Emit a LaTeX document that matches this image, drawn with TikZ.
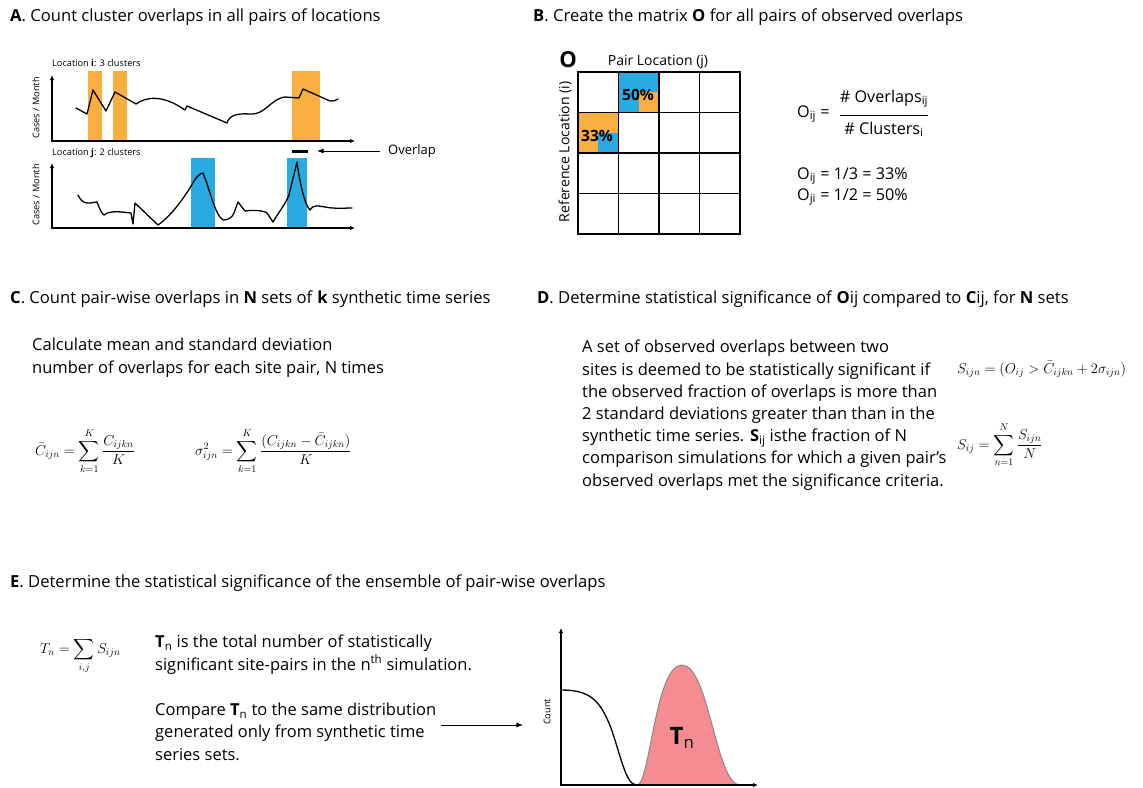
\documentclass[tikz,border=0pt]{standalone}
\usepackage{amsmath,amssymb}
\usepackage{fontspec}
\setmainfont{Open Sans}
\usepackage{tikz}
\usetikzlibrary{arrows.meta,calc,positioning}
\definecolor{clusterOrange}{HTML}{F9AE40}
\definecolor{clusterBlue}{HTML}{29ABE2}
\definecolor{histPink}{HTML}{F48C92}
\definecolor{histEdge}{HTML}{8A8A8A}

\begin{document}
\begin{tikzpicture}[x=1pt,y=-1pt,>=Latex,
    heading/.style={anchor=base west,inner sep=0pt,font=\fontsize{16.6}{20}\selectfont},
    para/.style={anchor=base west,inner sep=0pt,align=left,font=\fontsize{16.5}{22.2}\selectfont},
    smalltxt/.style={inner sep=0pt,font=\fontsize{9.2}{10}\selectfont},
    midtxt/.style={inner sep=0pt,font=\fontsize{14}{16}\selectfont},
    fractxt/.style={inner sep=0pt,font=\fontsize{16.2}{18}\selectfont},
    eqn/.style={anchor=base west,inner sep=0pt,font=\fontsize{14.5}{17}\selectfont},
    axis/.style={<->,line width=1.1pt,>={Latex[length=5pt,width=4.5pt]}},
    series/.style={line width=1.3pt,line join=round,line cap=round}]
  \useasboundingbox (0,0) rectangle (1143,787);

  % A: observed time series
  \node[heading] (headA) at (10,21)
    {\textbf{A}. Count cluster overlaps in all pairs of locations};
  \foreach \xa/\xb in {88/102,113/127,292/320}
    \fill[clusterOrange] (\xa,71) rectangle (\xb,141);
  \foreach \xa/\xb in {191/215,287/307}
    \fill[clusterBlue] (\xa,158) rectangle (\xb,228);
  \draw[axis] (52,75) -- (52,141) -- (355,141);
  \draw[axis] (52,163) -- (52,228) -- (355,228);
  \node[smalltxt,anchor=base west] (locI) at (52,66) {Location \textbf{i}: 3 clusters};
  \node[smalltxt,anchor=base west] (locJ) at (52,155) {Location \textbf{j}: 2 clusters};
  \node[smalltxt,rotate=90] (casesI) at (36,108) {Cases / Month};
  \node[smalltxt,rotate=90] (casesJ) at (36,195) {Cases / Month};
  \draw[series] (76,108) -- (87,114) -- (93,90) -- (106,111) -- (115,92) -- (136,104)
    .. controls (146,97) and (162,94) .. (185,110) -- (187,106) -- (227,123)
    .. controls (229,116) and (236,113) .. (250,114)
    .. controls (266,115) and (270,99) .. (285,97) -- (299,98) -- (303,89) -- (330,101)
    .. controls (333,102) and (336,100) .. (338,99);
  \draw[series] (78,195) .. controls (82,203) and (85,203) .. (90,203) -- (97,202)
    .. controls (100,210) and (102,214) .. (104,215)
    .. controls (110,210) and (122,212) .. (131,213) -- (133,224) -- (135,203) -- (158,225)
    .. controls (172,215) and (182,200) .. (190,188)
    .. controls (195,178) and (200,173) .. (203,173)
    .. controls (210,190) and (215,215) .. (223,220)
    .. controls (228,220) and (232,218) .. (234,213) -- (238,202) -- (245,211)
    .. controls (252,210) and (262,210) .. (267,213) -- (273,222)
    .. controls (280,210) and (285,205) .. (289,195) -- (297,162)
    .. controls (300,185) and (305,205) .. (310,210)
    .. controls (314,204) and (318,206) .. (325,207)
    .. controls (335,209) and (345,208) .. (352,208);
  \draw[line width=3pt] (292,151) -- (308,151) coordinate (overlapBar);
  \node[anchor=west,inner sep=0pt,font=\fontsize{13}{15}\selectfont] (overlapLbl) at (388,151) {Overlap};
  \draw[->,line width=0.8pt,shorten <=8pt,shorten >=9pt] (overlapLbl.west) -- (overlapBar);

  % B: overlap matrix
  \node[heading] (headB) at (533,21)
    {\textbf{B}. Create the matrix \textbf{O} for all pairs of observed overlaps};
  \node[inner sep=0pt,font=\fontsize{22}{22}\selectfont\bfseries] (matO) at (568,60) {O};
  \node[midtxt] (pairLbl) at (658,62) {Pair Location (j)};
  \node[midtxt,rotate=90] (refLbl) at (565,152) {Reference Location (i)};
  \fill[clusterBlue] (618.5,72) rectangle (659,112.5);
  \fill[clusterOrange] (638.75,92.25) rectangle (659,112.5);
  \fill[clusterOrange] (578,112.5) rectangle (618.5,153);
  \fill[clusterBlue] (598.25,132.75) rectangle (618.5,153);
  \foreach \k in {0,...,4}{
    \draw[line width=1.8pt,line cap=rect] (578+40.5*\k,72) -- (578+40.5*\k,234);
    \draw[line width=1.8pt,line cap=rect] (578,72+40.5*\k) -- (740,72+40.5*\k);
  }
  \node[inner sep=0pt,font=\fontsize{15.5}{16}\selectfont\bfseries] (pct50) at (638,95) {50\%};
  \node[inner sep=0pt,font=\fontsize{15.5}{16}\selectfont\bfseries] (pct33) at (597,136) {33\%};
  \node[fractxt,anchor=west] (oLhs) at (797,114) {O\textsubscript{ij} =};
  \node[fractxt,anchor=base] (oNum) at (884,102) {\# Overlaps\textsubscript{ij}};
  \node[fractxt,anchor=base] (oDen) at (884,134) {\# Clusters\textsubscript{i}};
  \draw[line width=0.8pt] (840,115) -- (928,115);
  \node[fractxt,anchor=base west] (oIJ) at (797,179) {O\textsubscript{ij} = 1/3 = 33\%};
  \node[fractxt,anchor=base west] (oJI) at (797,200) {O\textsubscript{ji} = 1/2 = 50\%};

  % C: synthetic series
  \node[heading] (headC) at (10,303)
    {\textbf{C}. Count pair-wise overlaps in \textbf{N} sets of \textbf{k} synthetic time series};
  \node[para] (calcTxt) at (32,373)
    {Calculate mean and standard deviation\\number of overlaps for each site pair, N times};
  \node[eqn] (meanEq) at (35,455)
    {$\displaystyle \bar{C}_{ijn}=\sum_{k=1}^{K}\frac{C_{ijkn}}{K}$};
  \node[eqn] (varEq) at (195,455)
    {$\displaystyle \sigma^2_{ijn}=\sum_{k=1}^{K}\frac{(C_{ijkn}-\bar{C}_{ijkn})}{K}$};

  % D: significance per pair
  \node[heading] (headD) at (537,303)
    {\textbf{D}. Determine statistical significance of \textbf{O}ij compared to \textbf{C}ij, for \textbf{N} sets};
  \node[para] (sigTxt) at (582,486)
    {A set of observed overlaps between two\\
     sites is deemed to be statistically significant if\\
     the observed fraction of overlaps is more than\\
     2 standard deviations greater than than in the\\
     synthetic time series. \textbf{S}\textsubscript{ij} isthe fraction of N\\
     comparison simulations for which a given pair’s\\
     observed overlaps met the significance criteria.};
  \node[eqn] (sijnEq) at (957,373)
    {$S_{ijn}=(O_{ij}>\bar{C}_{ijkn}+2\sigma_{ijn})$};
  \node[eqn] (sijEq) at (957,449)
    {$\displaystyle S_{ij}=\sum_{n=1}^{N}\frac{S_{ijn}}{N}$};

  % E: ensemble
  \node[heading] (headE) at (10,587)
    {\textbf{E}. Determine the statistical significance of the ensemble of pair-wise overlaps};
  \node[eqn] (tnEq) at (40,653) {$\displaystyle T_n=\sum_{i,j}S_{ijn}$};
  \node[para] (tnTxt) at (155,670)
    {\textbf{T}\textsubscript{n} is the total number of statistically\\
     significant site-pairs in the n\textsuperscript{th} simulation.};
  \node[para] (cmpTxt) at (155,760)
    {Compare \textbf{T}\textsubscript{n} to the same distribution\\
     generated only from synthetic time\\
     series sets.};
  \coordinate (histIn) at (523,725);
  \draw[->,line width=0.8pt] ([xshift=4pt]cmpTxt.east |- histIn) -- (histIn);
  \filldraw[fill=histPink,draw=histEdge,line width=1pt] (637,785)
    .. controls (650,785) and (655,665) .. (682,665)
    .. controls (709,665) and (716,785) .. (740,785);
  \draw[line width=1.3pt] (561,690) .. controls (590,690) and (600,700) .. (611,728)
    .. controls (622,760) and (626,785) .. (637,785);
  \draw[axis] (561,628) -- (561,785) -- (758,785);
  \node[smalltxt,rotate=90] (countLbl) at (547,712) {Count};
  \node[inner sep=0pt,font=\fontsize{24}{24}\selectfont] (tnLbl) at (682,738)
    {\textbf{T}\textsubscript{n}};
\end{tikzpicture}
\end{document}
